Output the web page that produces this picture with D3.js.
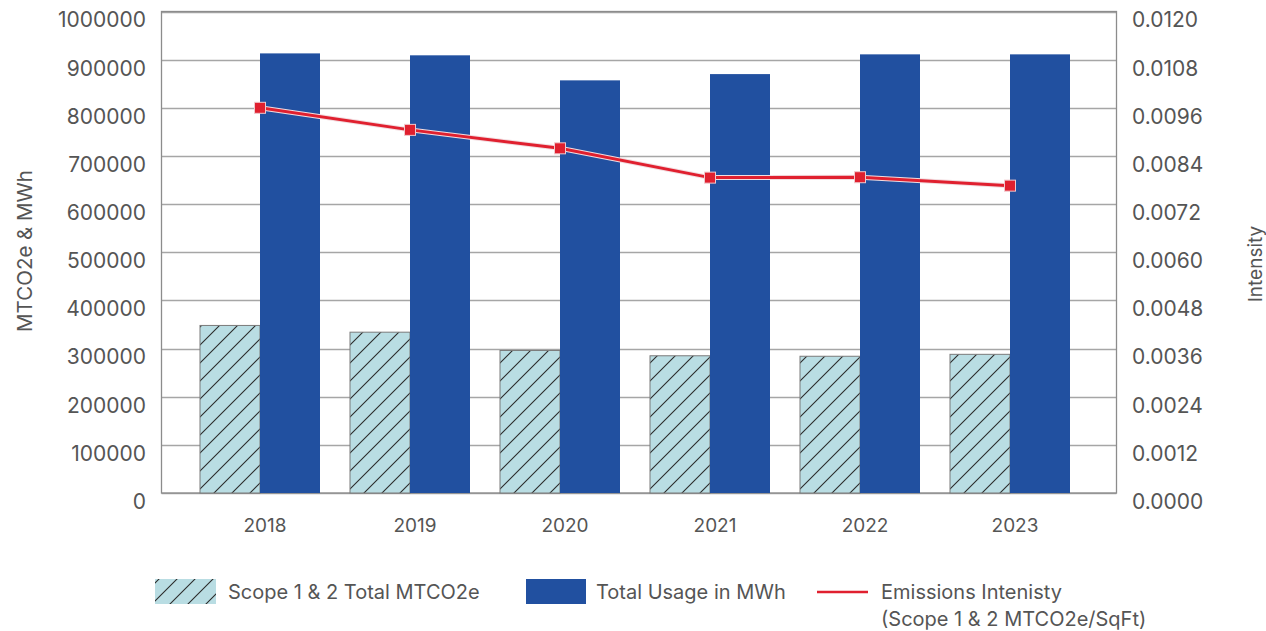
<!DOCTYPE html>
<html>
<head>
<meta charset="utf-8">
<script src="https://cdn.jsdelivr.net/npm/d3@7"></script>
<style>
  body { margin: 0; background: #fff; }
  text { font-family: Inter, "Open Sans", sans-serif; fill: #555; }
</style>
</head>
<body>
<script>
// chart data
var years = ["2018", "2019", "2020", "2021", "2022", "2023"];
var scopeTotal = [348000, 334000, 296000, 285000, 284000, 288000];
var usageMWh = [913000, 909000, 857000, 870000, 911000, 911000];
var intensity = [0.0096, 0.00905, 0.00859, 0.00786, 0.00787, 0.00766];
var leftTicks = [0, 100000, 200000, 300000, 400000, 500000, 600000, 700000, 800000, 900000, 1000000];
var rightTicks = [0, 0.0012, 0.0024, 0.0036, 0.0048, 0.0060, 0.0072, 0.0084, 0.0096, 0.0108, 0.0120];

var width = 1266, height = 631;
var plot = {left: 161.5, right: 1116.5, top: 11.5, bottom: 493};

var svg = d3.select("body").append("svg")
    .attr("width", width)
    .attr("height", height);

// hatch pattern for scope bars
var defs = svg.append("defs");
var pat = defs.append("pattern")
    .attr("id", "hatch")
    .attr("patternUnits", "userSpaceOnUse")
    .attr("width", 18)
    .attr("height", 18);
pat.append("rect").attr("width", 18).attr("height", 18).attr("fill", "#b9dde3");
pat.append("path")
    .attr("d", "M-2,20 L20,-2 M-2,2 L2,-2 M16,20 L20,16")
    .attr("stroke", "#2b2b2b")
    .attr("stroke-width", 1.1);

var x = d3.scaleBand().domain(years).range([185, 1085]);
var xSub = d3.scaleBand().domain(["scope", "usage"]).range([0, x.bandwidth()]).paddingOuter(0.25);
var yLeft = d3.scaleLinear().domain([0, 1000000]).range([plot.bottom, plot.top]);
var yRight = d3.scaleLinear().domain([0, 0.012]).range([plot.bottom, plot.top]);

// gridlines
svg.append("g")
    .selectAll("line")
    .data(leftTicks)
    .enter().append("line")
    .attr("x1", plot.left).attr("x2", plot.right)
    .attr("y1", function(d) { return Math.round(yLeft(d)) + 0.5; })
    .attr("y2", function(d) { return Math.round(yLeft(d)) + 0.5; })
    .attr("stroke", "#a6a6a6")
    .attr("stroke-width", 1.3);

// frame
svg.append("rect")
    .attr("x", plot.left).attr("y", plot.top)
    .attr("width", plot.right - plot.left)
    .attr("height", plot.bottom - plot.top)
    .attr("fill", "none")
    .attr("stroke", "#8c8c8c")
    .attr("stroke-width", 1.3);

// bars
var groups = svg.append("g")
    .selectAll("g")
    .data(years)
    .enter().append("g")
    .attr("transform", function(d) { return "translate(" + x(d) + ",0)"; });

groups.append("rect")
    .attr("x", xSub("scope"))
    .attr("width", xSub.bandwidth())
    .attr("y", function(d, i) { return yLeft(scopeTotal[i]); })
    .attr("height", function(d, i) { return plot.bottom - yLeft(scopeTotal[i]); })
    .attr("fill", "url(#hatch)")
    .attr("stroke", "#7a7a7a")
    .attr("stroke-width", 1);

groups.append("rect")
    .attr("x", xSub("usage"))
    .attr("width", xSub.bandwidth())
    .attr("y", function(d, i) { return yLeft(usageMWh[i]); })
    .attr("height", function(d, i) { return plot.bottom - yLeft(usageMWh[i]); })
    .attr("fill", "#2150a0");

// intensity line
var lineData = years.map(function(d, i) { return {year: d, v: intensity[i]}; });
var line = d3.line()
    .x(function(d) { return x(d.year) + x.bandwidth() / 2; })
    .y(function(d) { return yRight(d.v); });

svg.append("path")
    .datum(lineData)
    .attr("d", line)
    .attr("fill", "none")
    .attr("stroke", "#f2dde0")
    .attr("stroke-width", 5);
svg.append("path")
    .datum(lineData)
    .attr("d", line)
    .attr("fill", "none")
    .attr("stroke", "#e0202f")
    .attr("stroke-width", 3);

svg.append("g")
    .selectAll("rect")
    .data(lineData)
    .enter().append("rect")
    .attr("x", function(d) { return x(d.year) + x.bandwidth() / 2 - 5.5; })
    .attr("y", function(d) { return yRight(d.v) - 5.5; })
    .attr("width", 11).attr("height", 11)
    .attr("fill", "#e0202f")
    .attr("stroke", "#f0c8cc")
    .attr("stroke-width", 1);

// axis labels
svg.append("g")
    .selectAll("text")
    .data(leftTicks)
    .enter().append("text")
    .attr("x", 146)
    .attr("y", function(d) { return yLeft(d) + 8.5; })
    .attr("dy", "0.35em")
    .attr("text-anchor", "end")
    .style("font-size", "21px")
    .text(function(d) { return d; });

svg.append("g")
    .selectAll("text")
    .data(rightTicks)
    .enter().append("text")
    .attr("x", 1132)
    .attr("y", function(d) { return yRight(d) + 8.5; })
    .attr("dy", "0.35em")
    .style("font-size", "21px")
    .text(function(d) { return d.toFixed(4); });

svg.append("g")
    .selectAll("text")
    .data(years)
    .enter().append("text")
    .attr("x", function(d) { return x(d) + x.bandwidth() / 2 + 5; })
    .attr("y", 525)
    .attr("dy", "0.35em")
    .attr("text-anchor", "middle")
    .style("font-size", "19px")
    .text(function(d) { return d; });

svg.append("text")
    .attr("transform", "translate(25,251) rotate(-90)")
    .attr("dy", "0.35em")
    .attr("text-anchor", "middle")
    .style("font-size", "20.5px")
    .text("MTCO2e & MWh");

svg.append("text")
    .attr("transform", "translate(1255,264) rotate(-90)")
    .attr("dy", "0.35em")
    .attr("text-anchor", "middle")
    .style("font-size", "19px")
    .text("Intensity");

// legend
var legend = svg.append("g");
legend.append("rect")
    .attr("x", 155).attr("y", 579).attr("width", 61).attr("height", 25)
    .attr("fill", "url(#hatch)");
legend.append("text")
    .attr("x", 228).attr("y", 592).attr("dy", "0.35em")
    .style("font-size", "20px")
    .text("Scope 1 & 2 Total MTCO2e");

legend.append("rect")
    .attr("x", 526).attr("y", 579).attr("width", 60).attr("height", 25)
    .attr("fill", "#2150a0");
legend.append("text")
    .attr("x", 596).attr("y", 592).attr("dy", "0.35em")
    .style("font-size", "20px")
    .text("Total Usage in MWh");

legend.append("line")
    .attr("x1", 817).attr("x2", 868).attr("y1", 592).attr("y2", 592)
    .attr("stroke", "#e0202f").attr("stroke-width", 2.5);
legend.append("text")
    .attr("x", 881).attr("y", 592).attr("dy", "0.35em")
    .style("font-size", "20px")
    .text("Emissions Intenisty");
legend.append("text")
    .attr("x", 881).attr("y", 619).attr("dy", "0.35em")
    .style("font-size", "20px")
    .text("(Scope 1 & 2 MTCO2e/SqFt)");
</script>
</body>
</html>
